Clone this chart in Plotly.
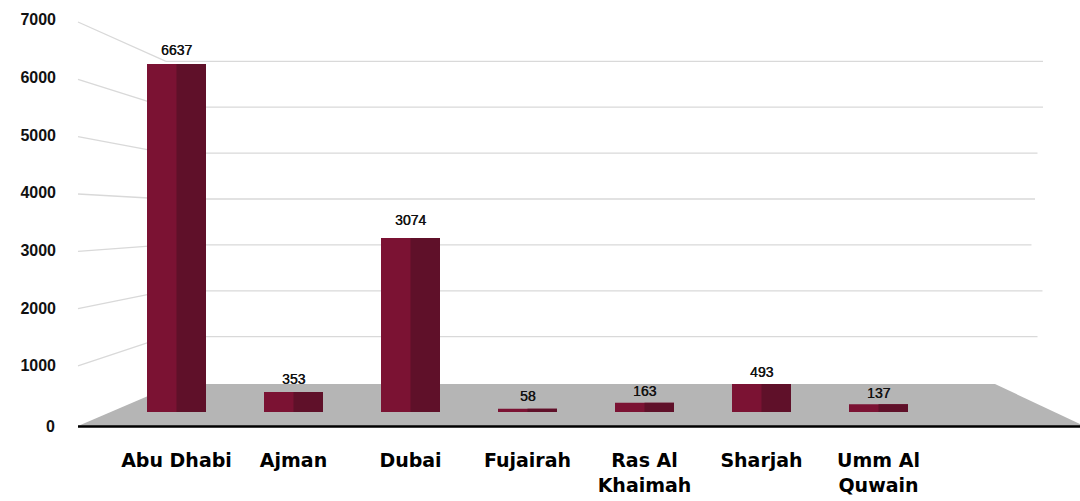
import plotly.graph_objects as go

categories = ["Abu Dhabi", "Ajman", "Dubai", "Fujairah", "Ras Al<br>Khaimah", "Sharjah", "Umm Al<br>Quwain"]
values = [6637, 353, 3074, 58, 163, 493, 137]
y_ticks = [0, 1000, 2000, 3000, 4000, 5000, 6000, 7000]

W, H = 1080, 501
FRONT = "#7b1233"
SIDE = "#5f1029"
GRID = "#d9d9d9"
FLOOR = "#b5b5b5"
INK = "#111111"

# pixel frame of the drawing
BAR_BASE, BAR_TOP = 412, 64          # bars are clipped at the plot top, as in the reference
BAR_SCALE = 0.0566                   # px per unit
BAR_AXIS_MAX = (BAR_BASE - BAR_TOP) / BAR_SCALE
LABEL_0, LABEL_7K = 423.5, 19.5      # tick label scale
EDGE_0, EDGE_7K = 423.3, 22          # left ends of the diagonal grid lines
WALL_0, WALL_7K = 382.6, 61.3        # back wall scale
GRID_RIGHT = [None, 1037.5, 1042.5, 1031.5, 1035, 1037.5, 1043, 1043]
LABEL_SHIFT = [14, 13, 18, 13, 12, 12.6, 11]
BAR_HALF = 59 / 117 / 2              # half a bar group, in category units


def px(x):
    return x / W


def py(y):
    return 1 - y / H


def edge_y(v):
    return EDGE_0 + (EDGE_7K - EDGE_0) * v / 7000


def wall_y(v):
    return WALL_0 + (WALL_7K - WALL_0) * v / 7000


fig = go.Figure()
fig.add_trace(go.Bar(x=categories, y=values, width=BAR_HALF * 2, offset=-BAR_HALF,
                     marker=dict(color=FRONT, line_width=0), showlegend=False, hoverinfo="skip"))
fig.add_trace(go.Bar(x=categories, y=values, width=BAR_HALF, offset=0,
                     marker=dict(color=SIDE, line_width=0), showlegend=False, hoverinfo="skip"))
fig.add_trace(go.Scatter(x=[0, 1], y=[y_ticks[1], y_ticks[-1]], mode="none", xaxis="x2", yaxis="y2",
                         showlegend=False, hoverinfo="skip"))

shapes = []
# floor
shapes.append(dict(type="path", xref="paper", yref="paper", layer="below", line_width=0, fillcolor=FLOOR,
                   path=f"M {px(78)} {py(426)} L {px(176)} {py(384)} L {px(995)} {py(384)} L {px(1080)} {py(424)} L {px(1080)} {py(426)} Z"))
for v, right in zip(y_ticks[1:], GRID_RIGHT[1:]):
    xw = 166
    shapes.append(dict(type="line", xref="paper", yref="paper", layer="below", line=dict(color=GRID, width=1.3),
                       x0=px(78), y0=py(edge_y(v)), x1=px(xw), y1=py(wall_y(v))))
    shapes.append(dict(type="line", xref="paper", yref="paper", layer="below", line=dict(color=GRID, width=1.3),
                       x0=px(xw), y0=py(wall_y(v)), x1=px(right), y1=py(wall_y(v))))
# front baseline
shapes.append(dict(type="line", xref="paper", yref="paper", layer="below", line=dict(color="#000000", width=2.5),
                   x0=px(78), y0=py(426.5), x1=px(1080), y1=py(426.5)))

annotations = [
    dict(x=c, y=min(v, BAR_AXIS_MAX), xref="x", yref="y", text=str(v), showarrow=False, yanchor="middle",
         yshift=s, font=dict(family="Liberation Sans", size=14, color=INK, shadow="0.35px 0 0 #111111"))
    for c, v, s in zip(categories, values, LABEL_SHIFT)
]
# the zero label sits a little lower than the even tick spacing
annotations.append(dict(x=px(57), y=py(426.7), xref="paper", yref="paper", text=str(y_ticks[0]), showarrow=False,
                        xanchor="right", yanchor="middle", xshift=0,
                        font=dict(family="Liberation Sans", size=16, color=INK, weight=700)))

fig.update_layout(
    width=W, height=H, autosize=False,
    margin=dict(l=0, r=0, t=0, b=0),
    paper_bgcolor="white", plot_bgcolor="rgba(0,0,0,0)",
    barmode="overlay",
    shapes=shapes, annotations=annotations,
    xaxis=dict(domain=[px(118), px(937)], range=[-0.5, 6.5], type="category", categoryorder="array",
               categoryarray=categories, anchor="y", showgrid=False, zeroline=False, showline=False,
               ticks="outside", ticklen=31, tickcolor="rgba(0,0,0,0)", automargin=False,
               tickfont=dict(family="DejaVu Sans", size=19, color="#000000", weight=700)),
    yaxis=dict(domain=[py(BAR_BASE), py(BAR_TOP)], range=[0, BAR_AXIS_MAX], anchor="x", visible=False),
    xaxis2=dict(domain=[px(57), 1], range=[0, 1], anchor="y2", visible=False),
    yaxis2=dict(domain=[py(LABEL_0), py(LABEL_7K)], range=[y_ticks[0], y_ticks[-1]], anchor="x2", side="left",
                tickmode="array", tickvals=y_ticks[1:], ticktext=[str(t) for t in y_ticks[1:]], showgrid=False,
                zeroline=False, showline=False, ticks="", automargin=False,
                tickfont=dict(family="Liberation Sans", size=16, color=INK, weight=700)),
    font=dict(family="Liberation Sans"),
)

fig.write_html("out.html", config={"displayModeBar": False},
               post_script="document.body.style.margin='0';document.documentElement.style.overflow='hidden';")
